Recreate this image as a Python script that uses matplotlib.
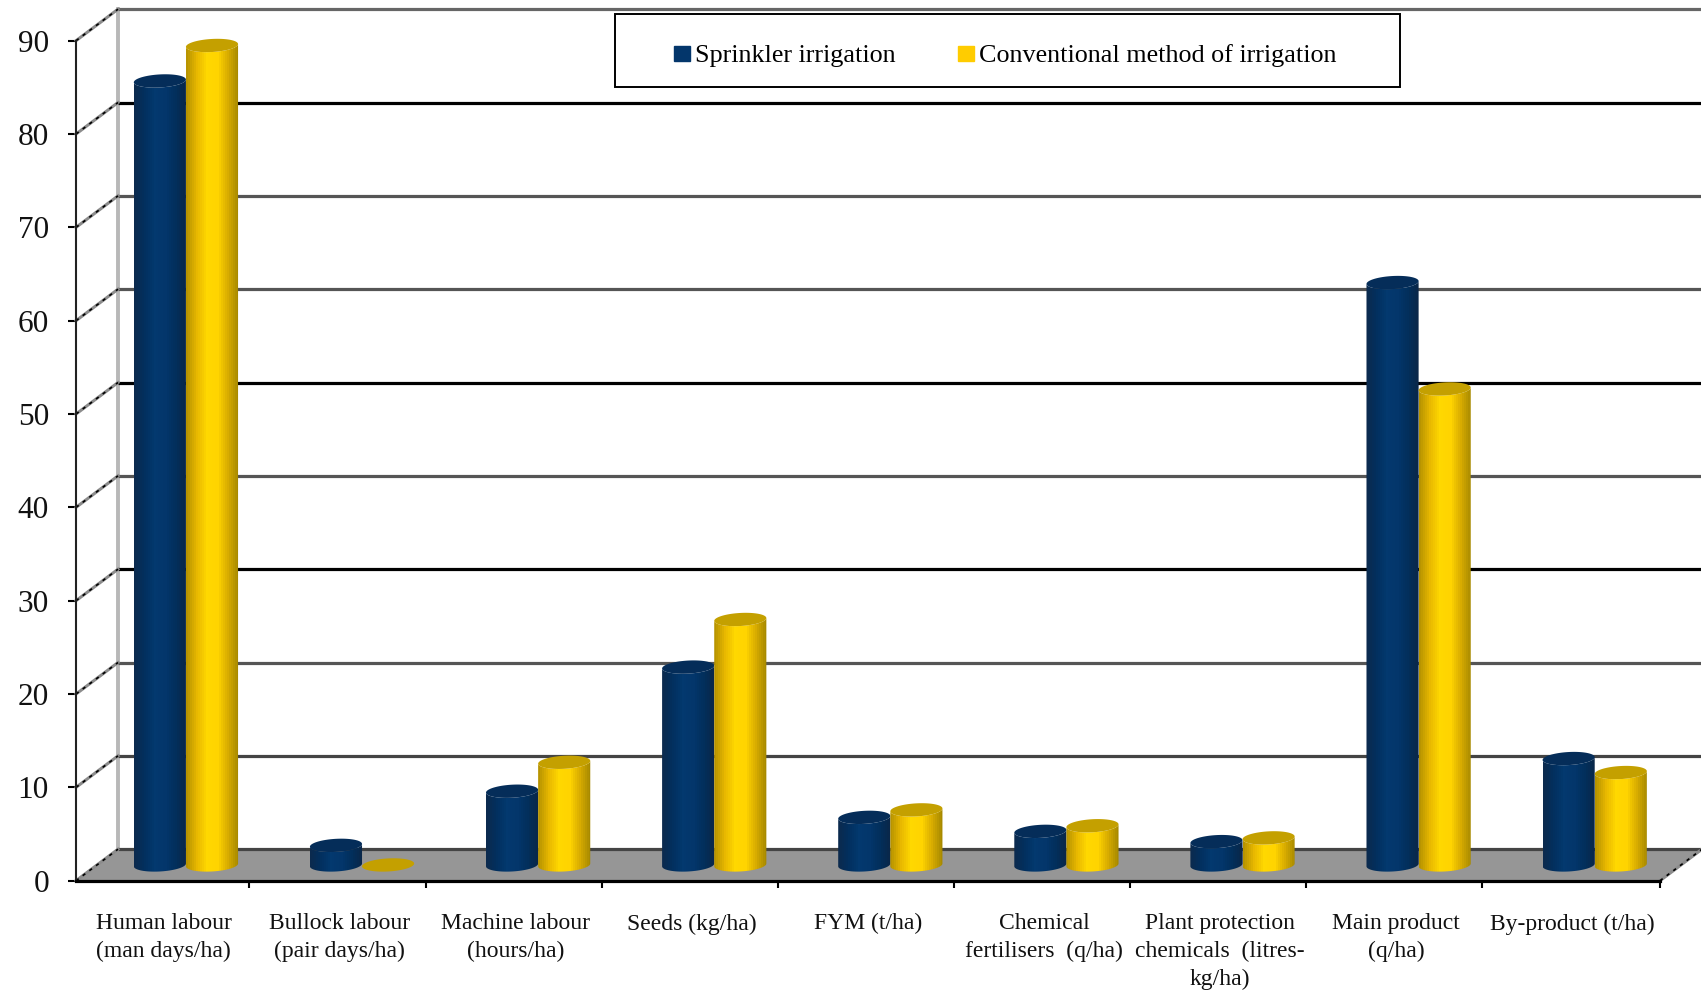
import numpy as np
from matplotlib import pyplot as plt
from matplotlib.colors import LinearSegmentedColormap
from matplotlib.patches import Patch, Polygon, Rectangle

labels = ['Human labour\n(man days/ha)', 'Bullock labour\n(pair days/ha)', 'Machine labour\n(hours/ha)',
          'Seeds (kg/ha)', 'FYM (t/ha)', 'Chemical\nfertilisers  (q/ha)',
          'Plant protection\nchemicals  (litres-\nkg/ha)', 'Main product\n(q/ha)', 'By-product (t/ha)']
sprinkler = [84, 2.1, 7.9, 21.2, 5.1, 3.6, 2.5, 62.4, 11.4]
conventional = [87.8, 0, 11, 26.3, 5.9, 4.2, 2.9, 51, 9.9]
y_ticks = [0, 10, 20, 30, 40, 50, 60, 70, 80, 90]
grid_colors = ['#444444', '#444444', '#555555', '#000000', '#555555', '#000000', '#555555', '#555555', '#000000', '#666666']

# depth of the fake 3D box, in axis units
depth_x = 0.2385
depth_y = 3.375
bar_w = 0.296
rx = bar_w / 2
ry = 0.7
tilt = 0.15
x_lo, x_hi = 0.015, 9.01

plt.rcParams['font.family'] = ['Liberation Serif', 'DejaVu Serif']

blue_map = LinearSegmentedColormap.from_list('blue_cyl', ['#0b2a4e', '#02305f', '#03396f', '#03366b', '#022f5c', '#0a2749'])
yellow_map = LinearSegmentedColormap.from_list('yellow_cyl', ['#b89400', '#e8b800', '#ffd800', '#ffd400', '#d8ac00', '#a88a00'])
blue_top = '#052d59'
yellow_top = '#c4a000'


def rim(cx, cy, t):
    return cx + rx * np.cos(t), cy + ry * np.sin(t) + tilt * np.cos(t)


def cylinder(ax, cx, value, cmap, top_color, z):
    base = depth_y / 2
    top = base + value
    ring = np.linspace(0, 2 * np.pi, 80)
    if value > 0:
        low = np.linspace(np.pi, 2 * np.pi, 40)
        xb, yb = rim(cx, base, low)
        xt, yt = rim(cx, top, low[::-1])
        body = Polygon(np.column_stack([np.r_[xb, xt], np.r_[yb, yt]]), closed=True, transform=ax.transData)
        grad = np.linspace(0, 1, 26).reshape(1, -1)
        im = ax.imshow(grad, cmap=cmap, aspect='auto', interpolation='nearest', zorder=z,
                       extent=(cx - rx, cx + rx, base - ry * 2, top + ry * 2))
        im.set_clip_path(body)
    xe, ye = rim(cx, top, ring)
    ax.fill(xe, ye, color=top_color, lw=0, zorder=z + 0.1, clip_on=False)


fig = plt.figure(figsize=(17.01, 9.94), dpi=100)
ax = fig.add_axes([76 / 1701, 1 - 880.7 / 994, (1660 - 76) / 1701, 840 / 994])

# floor
ax.fill([x_lo, x_hi, x_hi + depth_x, x_lo + depth_x], [0, 0, depth_y, depth_y], color='#969696', lw=0, zorder=1,
        clip_on=False)

# back wall lines and the short diagonals joining them to the front axis
for v, c in zip(y_ticks, grid_colors):
    ax.plot([x_lo + depth_x, x_hi + depth_x], [v + depth_y, v + depth_y], color=c, lw=2.3, clip_on=False, zorder=2,
            solid_capstyle='butt')
    ax.plot([x_lo, x_lo + depth_x], [v, v + depth_y], color='#8c8c8c', lw=2.2, clip_on=False, zorder=2)
    ax.plot([x_lo, x_lo + depth_x], [v, v + depth_y], color='black', lw=1.2, ls=(0, (2, 3)), clip_on=False, zorder=2.1)
ax.plot([x_hi, x_hi + depth_x], [0, depth_y], color='#8c8c8c', lw=2.2, clip_on=False, zorder=2)
ax.plot([x_hi, x_hi + depth_x], [0, depth_y], color='black', lw=1.2, ls=(0, (2, 3)), clip_on=False, zorder=2.1)
ax.plot([x_lo + depth_x] * 2, [depth_y, 90 + depth_y], color='#b8b8b8', lw=2.8, clip_on=False, zorder=1.5)

centers = np.arange(len(labels)) + 0.5 + 0.02 + depth_x / 2
for i in range(len(labels)):
    cylinder(ax, centers[i] - rx, sprinkler[i], blue_map, blue_top, 3)
    cylinder(ax, centers[i] + rx, conventional[i], yellow_map, yellow_top, 4)

ax.set_xlim(x_lo, x_hi)
ax.set_ylim(0, 90)
ax.set_yticks(y_ticks)
ax.set_xticks(np.arange(1, len(labels)).tolist() + [x_hi], [''] * len(labels))
ax.set_xticks(np.arange(len(labels)) + 0.512, labels, minor=True)
ax.tick_params(axis='y', length=6, width=1.5, pad=13.5, labelsize=22.5, color='black', labelcolor='#111111')
ax.tick_params(axis='x', which='major', length=5, width=1.5, color='black')
ax.tick_params(axis='x', which='minor', length=0, pad=23.5, labelsize=17, labelcolor='#111111')
for t in ax.get_xticklabels(minor=True):
    t.set_linespacing(1.4)

for side in ['top', 'right']:
    ax.spines[side].set_visible(False)
ax.spines['left'].set_color('#222222')
ax.spines['left'].set_linewidth(1.5)
ax.spines['bottom'].set_color('black')
ax.spines['bottom'].set_linewidth(2.3)
ax.spines['bottom'].set_zorder(6)
ax.patch.set_alpha(0)

# legend box is wider than the entries, so it gets its own frame
frame = Rectangle((615 / 1701, 1 - 87 / 994), 785 / 1701, 73 / 994, transform=fig.transFigure, facecolor='white',
                  edgecolor='black', lw=1.4, zorder=7)
ax.add_patch(frame)
frame.set_clip_on(False)

handles = [Patch(color='#03366b', label='Sprinkler irrigation'),
           Patch(color='#ffcc00', label='Conventional method of irrigation')]
leg = ax.legend(handles=handles, ncol=2, loc='center left', bbox_to_anchor=(674 / 1701, 1 - 56 / 994),
                bbox_transform=fig.transFigure, fontsize=18.8, frameon=False, handlelength=0.6, handleheight=0.5,
                handletextpad=0.2, columnspacing=2.4, borderpad=0, borderaxespad=0)
leg.set_zorder(8)

fig.savefig('out.png', dpi=100)
